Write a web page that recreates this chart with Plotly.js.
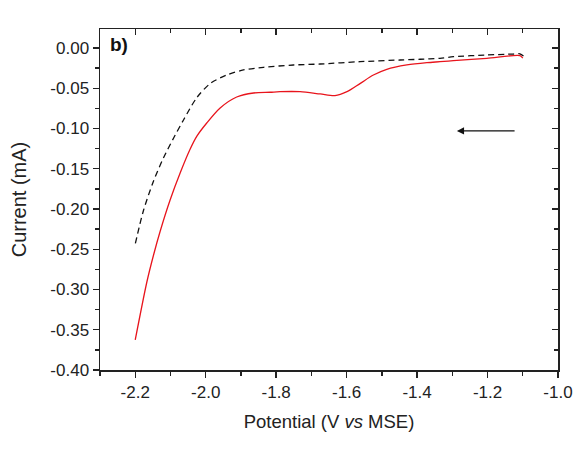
<!DOCTYPE html>
<html><head><meta charset="utf-8">
<script src="https://cdn.plot.ly/plotly-3.0.1.min.js"></script>
<style>html,body{margin:0;padding:0;background:#fff}#chart{width:576px;height:463px}</style>
</head><body><div id="chart"></div>
<script>
// Red curve (sample) – scan from -1.1 V to -2.2 V
const redX = [-1.100, -1.108, -1.202, -1.297, -1.335, -1.372, -1.429, -1.486, -1.524, -1.561, -1.599, -1.633, -1.675, -1.732, -1.789, -1.817, -1.864, -1.912, -1.959, -1.997, -2.025, -2.044, -2.072, -2.101, -2.129, -2.148, -2.167, -2.200];
const redY = [-0.0125, -0.0095, -0.0128, -0.0157, -0.0170, -0.0182, -0.0211, -0.0265, -0.0336, -0.0439, -0.0543, -0.0592, -0.0571, -0.0543, -0.0543, -0.0550, -0.0559, -0.0609, -0.0745, -0.0932, -0.1095, -0.1255, -0.1547, -0.1888, -0.2273, -0.2571, -0.2907, -0.3627];
// Black dashed curve (blank)
const blackX = [-1.098, -1.108, -1.127, -1.202, -1.297, -1.335, -1.391, -1.448, -1.562, -1.675, -1.751, -1.836, -1.893, -1.940, -1.987, -2.025, -2.063, -2.091, -2.120, -2.148, -2.177, -2.200];
const blackY = [-0.0100, -0.0072, -0.0075, -0.0087, -0.0108, -0.0128, -0.0140, -0.0149, -0.0170, -0.0199, -0.0211, -0.0240, -0.0273, -0.0335, -0.0441, -0.0615, -0.0894, -0.1118, -0.1366, -0.1652, -0.2025, -0.2435];
// Arrow (scan direction)
const arrowFrom = [-1.119, -0.103];
const arrowTo = [-1.287, -0.103];

const xTicks = [-2.2, -2.0, -1.8, -1.6, -1.4, -1.2, -1.0];
const xTickText = ['-2.2', '-2.0', '-1.8', '-1.6', '-1.4', '-1.2', '-1.0'];
const yTicks = [0, -0.05, -0.10, -0.15, -0.20, -0.25, -0.30, -0.35, -0.40];
const yTickText = ['0.00', '-0.05', '-0.10', '-0.15', '-0.20', '-0.25', '-0.30', '-0.35', '-0.40'];
const xRange = [-2.30, -1.0];
const yRange = [-0.40, 0.0236];

const FONT = 'Liberation Sans, Arial, sans-serif';
const traces = [
  {x: blackX, y: blackY, mode: 'lines', line: {color: '#111', width: 1.3, dash: '6px,4px', shape: 'spline', smoothing: 0.8}, hoverinfo: 'skip', showlegend: false},
  {x: redX, y: redY, mode: 'lines', line: {color: '#e8141c', width: 1.3, shape: 'spline', smoothing: 0.8}, hoverinfo: 'skip', showlegend: false},
  {x: [], y: [], xaxis: 'x2', yaxis: 'y2', showlegend: false}
];
const axCommon = {showgrid: false, zeroline: false, showline: true, linecolor: '#222', linewidth: 1.5, tickcolor: '#222', tickwidth: 1.3};
const layout = {
  width: 576, height: 463,
  margin: {l: 100, r: 18, t: 29, b: 93},
  paper_bgcolor: '#fff', plot_bgcolor: '#fff',
  font: {family: FONT, color: '#222', size: 17},
  xaxis: Object.assign({}, axCommon, {
    range: xRange, tickmode: 'array', tickvals: xTicks, ticktext: xTickText,
    ticks: 'outside', ticklen: 6,
    minor: {dtick: 0.1, tick0: 0, ticks: 'outside', ticklen: 4, tickcolor: '#222', tickwidth: 1.3},
    tickfont: {size: 17, family: FONT},
    title: {text: 'Potential (V <i>vs</i> MSE)', font: {size: 18.5, family: FONT}, standoff: 14},
    automargin: false
  }),
  yaxis: Object.assign({}, axCommon, {
    range: yRange, tickmode: 'array', tickvals: yTicks, ticktext: yTickText,
    ticks: 'outside', ticklen: 6,
    minor: {dtick: 0.025, tick0: 0, ticks: 'outside', ticklen: 4, tickcolor: '#222', tickwidth: 1.3},
    tickfont: {size: 17, family: FONT},
    title: {text: 'Current (mA)', font: {size: 20, family: FONT}, standoff: 18},
    automargin: false
  }),
  xaxis2: Object.assign({}, axCommon, {
    overlaying: 'x', side: 'top', anchor: 'y2', range: xRange, tickmode: 'array', tickvals: xTicks,
    showticklabels: false, ticks: 'inside', ticklen: 6,
    minor: {dtick: 0.1, tick0: 0, ticks: 'inside', ticklen: 4, tickcolor: '#222', tickwidth: 1.3}
  }),
  yaxis2: Object.assign({}, axCommon, {
    overlaying: 'y', side: 'right', anchor: 'x2', range: yRange, tickmode: 'array', tickvals: yTicks,
    showticklabels: false, ticks: 'inside', ticklen: 6,
    minor: {dtick: 0.025, tick0: 0, ticks: 'inside', ticklen: 4, tickcolor: '#222', tickwidth: 1.3}
  }),
  annotations: [
    {xref: 'paper', yref: 'paper', x: 0.018, y: 0.955, xanchor: 'left', yanchor: 'middle', showarrow: false,
     text: '<b>b)</b>', font: {size: 19, family: FONT, color: '#111'}},
    {x: arrowTo[0], y: arrowTo[1], ax: arrowFrom[0], ay: arrowFrom[1], axref: 'x', ayref: 'y', xref: 'x', yref: 'y',
     showarrow: true, arrowhead: 2, arrowsize: 1.2, arrowwidth: 1.2, arrowcolor: '#111', text: ''}
  ]
};
Plotly.newPlot('chart', traces, layout, {staticPlot: true, displayModeBar: false});
</script></body></html>
